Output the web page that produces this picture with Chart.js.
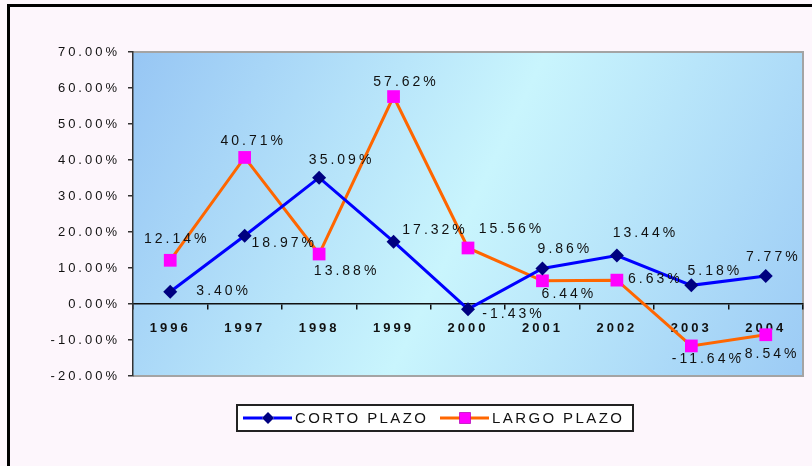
<!DOCTYPE html>
<html lang="es">
<head>
<meta charset="UTF-8" />
<title>Corto plazo / Largo plazo</title>
<script src="https://cdn.jsdelivr.net/npm/chart.js@4"></script>
<style>
    body { margin: 0; background: #fdf6fc; }
    canvas { display: block; }
</style>
</head>
<body>
<canvas id="myChart" width="812" height="466"></canvas>
<script>
    const years = ["1996", "1997", "1998", "1999", "2000", "2001", "2002", "2003", "2004"];
    const cortoPlazo = [3.40, 18.97, 35.09, 17.32, -1.43, 9.86, 13.44, 5.18, 7.77];
    const largoPlazo = [12.14, 40.71, 13.88, 57.62, 15.56, 6.44, 6.63, -11.64, -8.54];
    const yTicks = [-20, -10, 0, 10, 20, 30, 40, 50, 60, 70];

    // where each value label sits relative to its point (px)
    const cortoLabelOffset = [[52, -1], [38, 7], [21, -18], [40, -12], [44, 5], [21, -19], [27, -22], [22, -14], [6, -19]];
    const largoLabelOffset = [[5, -21], [7, -16], [26, 17], [11, -14], [42, -19], [25, 13], [37, -1], [15, 13], [1, 19]];

    const pct = v => v.toFixed(2) + "%";
    const FONT = "'Liberation Sans', Arial, sans-serif";

    const backgroundPlugin = {
        id: "background",
        beforeDraw(chart) {
            const { ctx, chartArea: a, width, height } = chart;
            ctx.save();
            ctx.fillStyle = "#fdf6fc";
            ctx.fillRect(0, 0, width, height);
            // black frame (left and top)
            ctx.fillStyle = "#000";
            ctx.fillRect(7, 4, 3, height);
            ctx.fillRect(7, 4, width, 3);
            // plot area gradient
            const g = ctx.createLinearGradient(a.left, a.top, a.right, a.bottom);
            g.addColorStop(0, "#97c6f4");
            g.addColorStop(0.5, "#c9f5fd");
            g.addColorStop(1, "#9ccbf5");
            ctx.fillStyle = g;
            ctx.fillRect(a.left, a.top, a.right - a.left, a.bottom - a.top);
            ctx.strokeStyle = "#a4a4a4";
            ctx.lineWidth = 2;
            ctx.beginPath();
            ctx.moveTo(a.left, a.top);
            ctx.lineTo(a.right, a.top);
            ctx.lineTo(a.right, a.bottom);
            ctx.lineTo(a.left, a.bottom);
            ctx.stroke();
            ctx.restore();
            ctx.letterSpacing = "3px";
        },
    };

    const valueLabelsPlugin = {
        id: "valueLabels",
        afterDatasetsDraw(chart) {
            const ctx = chart.ctx;
            const offsets = [cortoLabelOffset, largoLabelOffset];
            ctx.save();
            ctx.font = "14px " + FONT;
            ctx.letterSpacing = "3px";
            ctx.fillStyle = "#111";
            ctx.textAlign = "center";
            ctx.textBaseline = "middle";
            chart.data.datasets.forEach((ds, i) => {
                chart.getDatasetMeta(i).data.forEach((pt, j) => {
                    const [dx, dy] = offsets[i][j];
                    ctx.fillText(pct(ds.data[j]), pt.x + dx + 1.5, pt.y + dy);
                });
            });
            ctx.restore();
        },
    };

    const boxLegendPlugin = {
        id: "boxLegend",
        afterDraw(chart) {
            const ctx = chart.ctx;
            const box = { x: 237, y: 405, w: 396, h: 26 };
            const cy = box.y + box.h / 2;
            ctx.save();
            ctx.fillStyle = "#fff";
            ctx.fillRect(box.x, box.y, box.w, box.h);
            ctx.strokeStyle = "#222";
            ctx.lineWidth = 2;
            ctx.strokeRect(box.x, box.y, box.w, box.h);
            ctx.font = "15px " + FONT;
            ctx.letterSpacing = "2.4px";
            ctx.textBaseline = "middle";
            const items = [{ x: 243 }, { x: 440 }];
            chart.data.datasets.forEach((ds, i) => {
                const x0 = items[i].x;
                ctx.strokeStyle = ds.borderColor;
                ctx.lineWidth = 3;
                ctx.beginPath();
                ctx.moveTo(x0, cy);
                ctx.lineTo(x0 + 49, cy);
                ctx.stroke();
                Chart.helpers.drawPoint(ctx, {
                    pointStyle: ds.pointStyle,
                    radius: ds.pointRadius - 1,
                    borderWidth: 0,
                }, x0 + 25, cy);
                ctx.fillStyle = ds.pointBackgroundColor;
                ctx.fill();
                ctx.fillStyle = "#111";
                ctx.fillText(ds.label, x0 + 52, cy + 1);
            });
            ctx.restore();
        },
    };

    const config = {
        type: "line",
        data: {
            labels: years,
            datasets: [
                {
                    label: "CORTO PLAZO",
                    data: cortoPlazo,
                    borderColor: "#0000ff",
                    borderWidth: 3,
                    pointStyle: "rectRot",
                    pointRadius: 7,
                    pointBackgroundColor: "#000080",
                    pointBorderColor: "#000080",
                    pointBorderWidth: 0,
                    tension: 0,
                },
                {
                    label: "LARGO PLAZO",
                    data: largoPlazo,
                    borderColor: "#ff6600",
                    borderWidth: 3,
                    pointStyle: "rect",
                    pointRadius: 9,
                    pointBackgroundColor: "#ff00ff",
                    pointBorderColor: "#ff00ff",
                    pointBorderWidth: 0,
                    tension: 0,
                },
            ],
        },
        options: {
            responsive: false,
            animation: false,
            layout: { padding: { left: 0, top: 52, right: 6, bottom: 90 } },
            plugins: {
                legend: { display: false },
                tooltip: { enabled: false },
            },
            scales: {
                x: {
                    position: { y: 0 },
                    offset: true,
                    grid: {
                        drawOnChartArea: false,
                        offset: true,
                        tickLength: 5,
                        color: "#111",
                        lineWidth: 1.5,
                    },
                    border: { display: true, color: "#111", width: 1.5 },
                    ticks: {
                        color: "#111",
                        font: { family: FONT, size: 13, weight: "bold" },
                        padding: 12,
                        maxRotation: 0,
                    },
                },
                y: {
                    min: -20,
                    max: 70,
                    afterFit(scale) {
                        scale.width = 133;
                    },
                    afterBuildTicks(scale) {
                        scale.ticks = yTicks.map(v => ({ value: v }));
                    },
                    grid: {
                        drawOnChartArea: false,
                        tickLength: 5,
                        color: "#333",
                        lineWidth: 1.5,
                    },
                    border: { display: true, color: "#333", width: 1.5 },
                    ticks: {
                        color: "#111",
                        font: { family: FONT, size: 13 },
                        padding: 8,
                        callback: v => pct(v),
                    },
                },
            },
        },
        plugins: [backgroundPlugin, valueLabelsPlugin, boxLegendPlugin],
    };

    const myChart = new Chart(document.getElementById("myChart"), config);
</script>
</body>
</html>
